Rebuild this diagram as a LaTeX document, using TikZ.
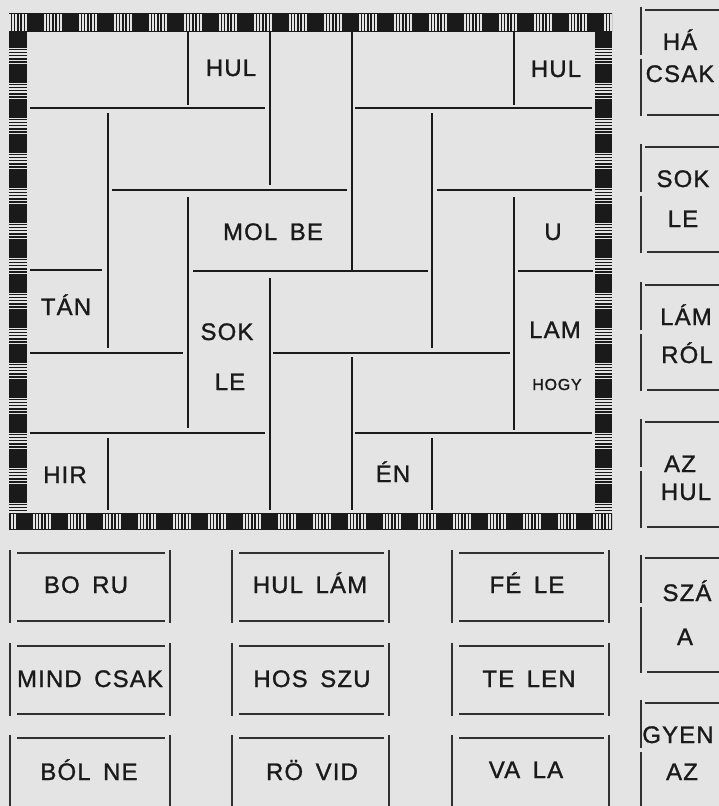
\documentclass[tikz,border=0pt]{standalone}
\usepackage{fontspec}
\setmainfont{Liberation Sans}[LetterSpace=5,WordSpace=1.6,FakeBold=1.2]
\definecolor{bg}{HTML}{E4E4E4}
\definecolor{ink}{HTML}{1A1A1A}
\begin{document}
\begin{tikzpicture}[x=1bp,y=-1bp,
  lbl/.style={font=\fontsize{24}{24}\selectfont, text=ink, anchor=base, inner sep=0pt},
  sml/.style={font=\fontsize{16}{16}\selectfont, text=ink, anchor=base, inner sep=0pt},
  gridline/.style={draw=ink, line width=1.4bp},
  boxline/.style={draw=ink!90, line width=1.2bp},
  hatch/.style={draw=ink, line width=1.5bp},
  blk/.style={fill=ink}]
\useasboundingbox (0,0) rectangle (719,806);
\fill[bg] (0,0) rectangle (719,806);
\clip (0,0) rectangle (719,806);

% ---------- frame strips ----------
% top
\begin{scope}
  \clip (9,13) rectangle (612,32);
  \foreach \i in {-1,...,17} {
    \fill[blk] ({28+35*\i},13) rectangle ++(16,19);
    \foreach \k in {0,...,5} \draw[hatch] ({28+35*\i+18.5+3.2*\k},13) -- ++(0,19);
  }
\end{scope}
\draw[ink, line width=1.2bp] (9,13.6) -- (612,13.6) (9,31.4) -- (612,31.4);
% bottom
\begin{scope}
  \clip (9,513) rectangle (612,530);
  \foreach \i in {-1,...,17} {
    \fill[blk] ({17+35*\i},513) rectangle ++(16,17);
    \foreach \k in {0,...,5} \draw[hatch] ({17+35*\i+18.5+3.2*\k},513) -- ++(0,17);
  }
\end{scope}
\draw[ink, line width=1.2bp] (9,513.6) -- (612,513.6) (9,529.4) -- (612,529.4);
% left
\begin{scope}
  \clip (9,32) rectangle (27,513);
  \foreach \i in {-1,...,14} {
    \fill[blk] (9,{31+35*\i}) rectangle ++(18,17);
    \foreach \k in {0,...,5} \draw[hatch] (9,{31+35*\i+18.5+3.1*\k}) -- ++(18,0);
  }
\end{scope}
% right
\begin{scope}
  \clip (595,32) rectangle (612,513);
  \foreach \i in {-1,...,14} {
    \fill[blk] (595,{31+35*\i}) rectangle ++(17,17);
    \foreach \k in {0,...,5} \draw[hatch] (595,{31+35*\i+18.5+3.1*\k}) -- ++(17,0);
  }
\end{scope}

% ---------- inner weave lines ----------
% vertical
\draw[gridline] (108,113) -- (108,348) (108,438) -- (108,510);
\draw[gridline] (188,32) -- (188,105) (188,197) -- (188,428);
\draw[gridline] (270,32) -- (270,185) (270,278) -- (270,510);
\draw[gridline] (352,32) -- (352,270) (352,357) -- (352,510);
\draw[gridline] (432,113) -- (432,348) (432,438) -- (432,510);
\draw[gridline] (514,32) -- (514,105) (514,197) -- (514,430);
% horizontal
\draw[gridline] (30,108) -- (265,108) (355,108) -- (592,108);
\draw[gridline] (112,190) -- (347,190) (437,190) -- (592,190);
\draw[gridline] (30,270) -- (102,270) (193,271) -- (428,271) (518,271) -- (593,271);
\draw[gridline] (30,353) -- (183,353) (273,353) -- (510,353);
\draw[gridline] (30,433) -- (265,433) (355,433) -- (592,433);

% ---------- labels inside frame ----------
\node[lbl] (hul1) at (231,76) {HUL};
\node[lbl] (hul2) at (556,77) {HUL};
\node[lbl] (molbe) at (273,240) {MOL BE};
\node[lbl] (u) at (553,240) {U};
\node[lbl] (tan) at (66,315) {TÁN};
\node[lbl] (sok1) at (227,340) {SOK};
\node[lbl] (le1) at (230,390) {LE};
\node[lbl] (hir) at (65,483) {HIR};
\node[lbl] (lam) at (555,338) {LAM};
\node[sml] (hogy) at (557,390) {HOGY};
\node[lbl] (en) at (393,482) {ÉN};

% ---------- right column pieces ----------
\foreach \t/\b in {10/115, 147/252, 285/390, 422/527, 558/672, 703/812} {
  \draw[boxline] (641,{\t-3}) -- (641,{\t+45}) (641,{\t+49}) -- (641,{\b+1});
  \draw[boxline] (645,\t) -- (730,\t) (647,\b) -- (730,\b);
}
\node[lbl] (ha) at (680,50) {HÁ};
\node[lbl] (csak) at (680,82) {CSAK};
\node[lbl] (sok2) at (683,187) {SOK};
\node[lbl] (le2) at (683,227) {LE};
\node[lbl] (lam2) at (686,325) {LÁM};
\node[lbl] (rol) at (687,363) {RÓL};
\node[lbl] (az1) at (680,472) {AZ};
\node[lbl] (hul3) at (686,500) {HUL};
\node[lbl] (sza) at (687,601) {SZÁ};
\node[lbl] (a) at (685,645) {A};
\node[lbl] (gyen) at (678,743) {GYEN};
\node[lbl] (az2) at (682,780) {AZ};

% ---------- bottom pieces ----------
\foreach \xl/\xr in {10/170, 232/389, 452/609} {
  \foreach \t/\b in {553/621, 646/714, 738/812} {
    \draw[boxline] (\xl,{\t-3}) -- (\xl,{\b+2}) (\xr,{\t-3}) -- (\xr,{\b+2});
    \draw[boxline] ({\xl+7},\t) -- ({\xr-5},\t) ({\xl+7},\b) -- ({\xr-5},\b);
  }
}
\node[lbl] (boru) at (86,593) {BO RU};
\node[lbl] (mindcsak) at (90,687) {MIND CSAK};
\node[lbl] (bolne) at (89,780) {BÓL NE};
\node[lbl] (hullam) at (310,593) {HUL LÁM};
\node[lbl] (hosszu) at (312,687) {HOS SZU};
\node[lbl] (rovid) at (312,780) {RÖ VID};
\node[lbl] (fele) at (527,593) {FÉ LE};
\node[lbl] (telen) at (529,687) {TE LEN};
\node[lbl] (vala) at (526,778) {VA LA};
\end{tikzpicture}
\end{document}
